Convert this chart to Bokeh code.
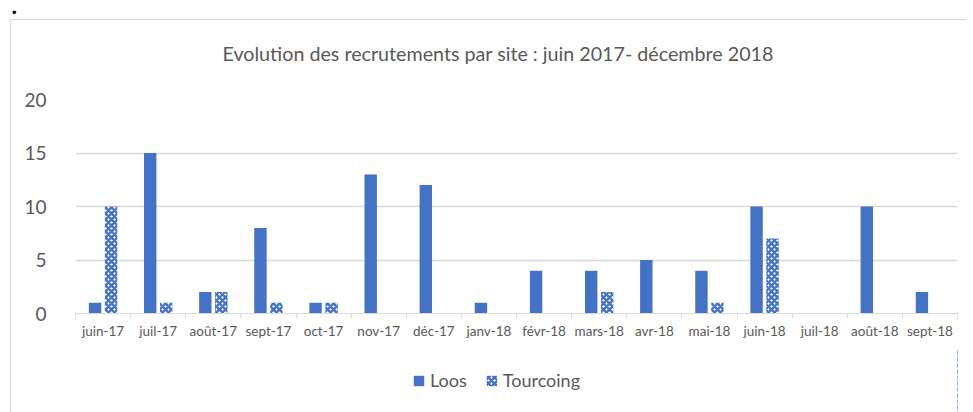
from bokeh.plotting import figure
from bokeh.layouts import column
from bokeh.models import (Range1d, FixedTicker, Legend, LegendItem, Title,
                          ColumnDataSource, InlineStyleSheet)
from bokeh.transform import dodge
from bokeh.embed import file_html
from bokeh.resources import INLINE

# ---- data ----
months = ["juin-17", "juil-17", "août-17", "sept-17", "oct-17", "nov-17",
          "déc-17", "janv-18", "févr-18", "mars-18", "avr-18", "mai-18",
          "juin-18", "juil-18", "août-18", "sept-18"]
loos = [1, 15, 2, 8, 1, 13, 12, 1, 4, 4, 5, 4, 10, 0, 10, 2]
tourcoing = [10, 1, 2, 1, 1, 0, 0, 0, 0, 2, 0, 1, 7, 0, 0, 0]
y_ticks = [0, 5, 10, 15, 20]
series_names = ["Loos", "Tourcoing"]
title_text = "Evolution des recrutements par site : juin 2017- décembre 2018"

BLUE = "#4472C4"
GRID = "#d9d9d9"
TXT = "#595959"
FONT = "Lato"

loos_style = dict(fill_color=BLUE, line_color=None)
tour_style = dict(fill_color="white", line_color=None,
                  hatch_pattern="diagonal_cross", hatch_color=BLUE,
                  hatch_scale=6, hatch_weight=2.3)

n = len(months)
idx = list(range(n))
src = ColumnDataSource(dict(idx=idx, month=months, loos=loos, tourcoing=tourcoing))

p = figure(frame_width=882, frame_height=214, output_backend="svg",
           toolbar_location=None, x_range=Range1d(0, n), y_range=Range1d(0, 20),
           min_border_left=75, min_border_right=8, min_border_top=99,
           min_border_bottom=37)
p.outline_line_color = None
p.background_fill_color = "white"
p.border_fill_color = "white"

r1 = p.vbar(x=dodge("idx", 0.355, range=p.x_range), top="loos", width=0.225,
            source=src, **loos_style)
r2 = p.vbar(x=dodge("idx", 0.645, range=p.x_range), top="tourcoing", width=0.225,
            source=src, **tour_style)

# x axis: labels at category centres, ticks at category boundaries
xa = p.xaxis[0]
xa.ticker = FixedTicker(ticks=[i + 0.5 for i in idx], minor_ticks=list(range(n + 1)))
xa.major_label_overrides = {i + 0.5: m for i, m in zip(idx, months)}
xa.major_tick_line_color = None
xa.major_tick_out = 0
xa.major_tick_in = 0
xa.minor_tick_line_color = GRID
xa.minor_tick_out = 5
xa.minor_tick_in = 0
xa.axis_line_color = GRID
xa.major_label_standoff = 4
xa.major_label_text_font = FONT
xa.major_label_text_font_size = "13.5px"
xa.major_label_text_color = TXT

ya = p.yaxis[0]
ya.ticker = FixedTicker(ticks=y_ticks)
ya.major_tick_line_color = None
ya.minor_tick_line_color = None
ya.axis_line_color = None
ya.major_label_standoff = 23
ya.major_label_text_font = FONT
ya.major_label_text_font_size = "19px"
ya.major_label_text_color = TXT

p.xgrid.grid_line_color = None
p.ygrid.grid_line_color = GRID
p.ygrid.grid_line_width = 1.5

p.add_layout(Title(text=title_text, align="left", offset=147, standoff=70,
                   vertical_align="bottom", text_font=FONT,
                   text_font_size="19.7px", text_font_style="normal",
                   text_color=TXT), "above")

# legend strip below the chart (same series drawn out of view, only the key shows)
p2 = figure(width=965, height=62, min_border=0, output_backend="svg",
            toolbar_location=None, x_axis_type=None, y_axis_type=None,
            x_range=Range1d(-20, -19), y_range=Range1d(0, 1))
p2.outline_line_color = None
p2.xgrid.visible = False
p2.ygrid.visible = False
k1 = p2.vbar(x="idx", top="loos", width=0.225, source=src, **loos_style)
k2 = p2.vbar(x="idx", top="tourcoing", width=0.225, source=src, **tour_style)
legend = Legend(items=[LegendItem(label=series_names[0], renderers=[k1]),
                       LegendItem(label=series_names[1], renderers=[k2])],
                orientation="horizontal", location=(337, 21),
                padding=0, margin=0, spacing=18, glyph_width=13, glyph_height=13,
                label_standoff=5, border_line_color=None,
                background_fill_alpha=0,
                label_text_font=FONT, label_text_font_size="18px",
                label_text_color=TXT)
p2.add_layout(legend)

# outer chart box (left/top edges visible) and the document bullet
layout = column(p, p2, spacing=0, stylesheets=[InlineStyleSheet(css="""
:host::after { content: ""; position: absolute; left: 10px; top: 19px;
  right: 0px; bottom: 0px; border-left: 1.5px solid #d9d9d9;
  border-top: 1.5px solid #d9d9d9; pointer-events: none; }
:host::before { content: "\\2022"; position: absolute; left: 12px; top: 5px;
  font-size: 13px; line-height: 16px; color: black; font-family: Arial; z-index: 5; }
""")])

open("out.html", "w").write(file_html(layout, INLINE))
